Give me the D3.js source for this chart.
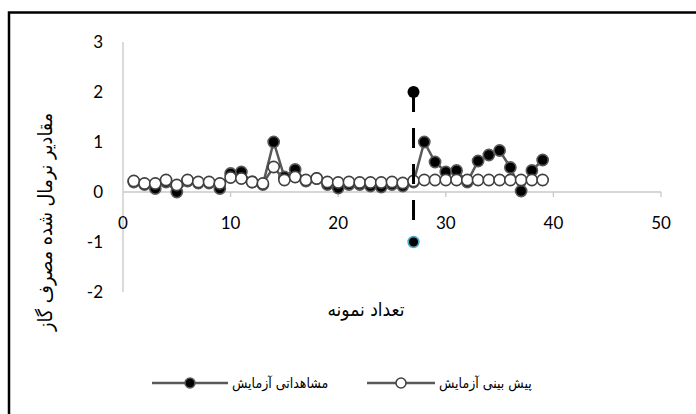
<!DOCTYPE html>
<html><head><meta charset="utf-8">
<script src="https://cdn.jsdelivr.net/npm/d3@7"></script>
<style>
html,body{margin:0;padding:0;background:#fff;}
svg{display:block;}
</style>
</head><body>
<svg id="chart" width="696" height="414"></svg>
<script>
const samples = d3.range(1, 40);
const observed = [0.2,0.15,0.07,0.2,0.0,0.22,0.18,0.18,0.07,0.37,0.4,0.2,0.15,1.0,0.3,0.45,0.22,0.27,0.15,0.08,0.15,0.15,0.12,0.1,0.15,0.12,0.2,1.0,0.6,0.4,0.43,0.2,0.62,0.74,0.83,0.49,0.02,0.43,0.64];
const predicted = [0.22,0.17,0.17,0.24,0.14,0.24,0.2,0.2,0.17,0.29,0.27,0.2,0.17,0.5,0.24,0.3,0.24,0.27,0.2,0.19,0.2,0.19,0.19,0.19,0.2,0.18,0.22,0.24,0.24,0.24,0.24,0.24,0.24,0.24,0.24,0.24,0.24,0.24,0.24];
const markerX = [27, 27];
const markerY = [2, -1];
const xTicks = [0,10,20,30,40,50];
const yTicks = [-2,-1,0,1,2,3];
const seriesNames = ["مشاهداتی آزمایش", "پیش بینی آزمایش"];
const xTitle = "تعداد نمونه";
const yTitle = "مقادیر نرمال شده مصرف گاز";

const svg = d3.select("#chart");
const x = d3.scaleLinear().domain([0,50]).range([123,661]);
const y = d3.scaleLinear().domain([-2,3]).range([292,42]);
const arFont = "'DejaVu Sans Condensed', 'DejaVu Sans', sans-serif";
const numFont = "Lato, 'Open Sans', sans-serif";

// outer frame
svg.append("rect").attr("x",9).attr("y",12.5).attr("width",720).attr("height",430)
  .attr("fill","none").attr("stroke","#000").attr("stroke-width",2.5);

// axes
svg.append("line").attr("x1",x(0)).attr("x2",x(0)).attr("y1",y(3)).attr("y2",y(-2))
  .attr("stroke","#c8c8c8").attr("stroke-width",1.3);
svg.append("line").attr("x1",x(0)).attr("x2",x(50)).attr("y1",y(0)).attr("y2",y(0))
  .attr("stroke","#c8c8c8").attr("stroke-width",1.3);
svg.selectAll(".xt").data(xTicks.slice(1)).join("line")
  .attr("x1",d=>x(d)).attr("x2",d=>x(d)).attr("y1",y(0)).attr("y2",y(0)+5)
  .attr("stroke","#c8c8c8").attr("stroke-width",1.3);

svg.selectAll(".xl").data(xTicks).join("text")
  .attr("x",d=>x(d)).attr("y",y(0)+37).attr("text-anchor","middle")
  .attr("font-family",numFont).attr("font-size",17).attr("fill","#000").text(d=>d);
svg.selectAll(".yl").data(yTicks).join("text")
  .attr("x",103).attr("y",d=>y(d)+6).attr("text-anchor","end")
  .attr("font-family",numFont).attr("font-size",17).attr("fill","#000").text(d=>d);

svg.append("text").attr("x",366).attr("y",316).attr("text-anchor","middle")
  .attr("font-family",arFont).attr("font-size",19).text(xTitle);
svg.append("text").attr("transform","translate(52,222) rotate(-90)").attr("text-anchor","middle")
  .attr("font-family",arFont).attr("font-size",19.5).text(yTitle);

const line = d3.line().x((d,i)=>x(samples[i])).y(d=>y(d));
const lineColor = "#595959";

// observed
svg.append("path").datum(observed).attr("d",line).attr("fill","none")
  .attr("stroke",lineColor).attr("stroke-width",2.5);
svg.selectAll(".obs").data(observed).join("circle")
  .attr("cx",(d,i)=>x(samples[i])).attr("cy",d=>y(d)).attr("r",5.6)
  .attr("fill","#000").attr("stroke",lineColor).attr("stroke-width",1.6);

// predicted
svg.append("path").datum(predicted).attr("d",line).attr("fill","none")
  .attr("stroke",lineColor).attr("stroke-width",2.5);
svg.selectAll(".pred").data(predicted).join("circle")
  .attr("cx",(d,i)=>x(samples[i])).attr("cy",d=>y(d)).attr("r",5.6)
  .attr("fill","#fff").attr("stroke","#404040").attr("stroke-width",1.6);

// dashed marker line
svg.append("line").attr("x1",x(markerX[0])).attr("x2",x(markerX[1]))
  .attr("y1",y(markerY[0])).attr("y2",y(markerY[1]))
  .attr("stroke","#000").attr("stroke-width",3).attr("stroke-dasharray","20,16");
svg.append("circle").attr("cx",x(markerX[0])).attr("cy",y(markerY[0])).attr("r",6).attr("fill","#000");
svg.append("circle").attr("cx",x(markerX[1])).attr("cy",y(markerY[1])).attr("r",5.4)
  .attr("fill","#000").attr("stroke","#4bacc6").attr("stroke-width",1.6);

// legend
const ly = 383;
const leg = [
  {x1:152, x2:228, fill:"#000", stroke:lineColor, tx:232, name:seriesNames[0]},
  {x1:367, x2:435, fill:"#fff", stroke:"#404040", tx:439, name:seriesNames[1]}
];
leg.forEach(l=>{
  svg.append("line").attr("x1",l.x1).attr("x2",l.x2).attr("y1",ly).attr("y2",ly)
    .attr("stroke",lineColor).attr("stroke-width",2.5);
  svg.append("circle").attr("cx",(l.x1+l.x2)/2).attr("cy",ly).attr("r",5)
    .attr("fill",l.fill).attr("stroke",l.stroke).attr("stroke-width",1.5);
  svg.append("text").attr("x",l.tx).attr("y",ly+5).attr("text-anchor","start")
    .attr("font-family",arFont).attr("font-size",14).text(l.name);
});
</script>
</body></html>
